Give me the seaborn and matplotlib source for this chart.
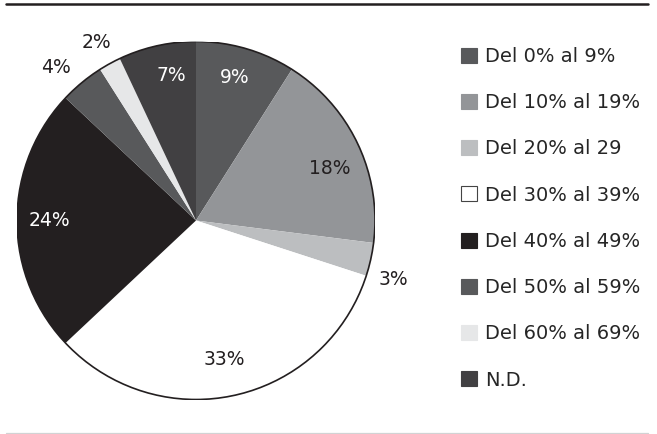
import numpy as np
import matplotlib
matplotlib.use("Agg")
import matplotlib.pyplot as plt
import matplotlib.patches as mpatches
from matplotlib.lines import Line2D
import seaborn as sns

# data
labels = ["Del 0% al 9%", "Del 10% al 19%", "Del 20% al 29", "Del 30% al 39%",
          "Del 40% al 49%", "Del 50% al 59%", "Del 60% al 69%", "N.D."]
shares = [9, 18, 3, 33, 24, 4, 2, 7]
pct_text = ["9%", "18%", "3%", "33%", "24%", "4%", "2%", "7%"]
colors = ["#58595b", "#939598", "#bcbec0", "#ffffff",
          "#231f20", "#58595b", "#e6e7e8", "#414042"]
text_colors = ["white", "#231f20", "#231f20", "#231f20",
               "white", "#231f20", "#231f20", "white"]
# label distance from centre (fraction of radius) and small angle nudge
label_r = [0.83, 0.80, 1.15, 0.79, 0.82, 1.16, 1.14, 0.82]
label_dang = [1, -4, -4, -1, 0, 3, 0.5, -3]

sns.set_theme(style="white")
plt.rcParams["font.family"] = ["DejaVu Sans"]
FS = 13.5
LFS = 14

fig = plt.figure(figsize=(6.57, 4.34), dpi=100)
ax = fig.add_axes([17 / 657, 1 - 399.5 / 434, 358 / 657, 358 / 434])

wedges, _ = ax.pie(shares, colors=sns.color_palette(colors), startangle=90,
                   counterclock=False, radius=1,
                   wedgeprops=dict(linewidth=0))
ax.add_patch(mpatches.Circle((0, 0), 1, fill=False, edgecolor="#231f20", lw=1.2))

for w, t, c, r, da in zip(wedges, pct_text, text_colors, label_r, label_dang):
    mid = np.deg2rad((w.theta1 + w.theta2) / 2 + da)
    ax.text(r * np.cos(mid), r * np.sin(mid), t, color=c, fontsize=FS,
            ha="center", va="center")

ax.set_xlim(-1, 1)
ax.set_ylim(-1, 1)
ax.set_aspect("equal")
ax.axis("off")

handles = []
for c in colors:
    edge = "#444444" if c == "#ffffff" else c
    handles.append(mpatches.Patch(facecolor=c, edgecolor=edge, lw=0.8))

fig.legend(handles, labels, loc="upper left", bbox_to_anchor=(461 / 657, 1 - 47 / 434),
           frameon=False, fontsize=LFS, handlelength=0.82, handleheight=0.82,
           handletextpad=0.4, labelspacing=1.40, borderpad=0, borderaxespad=0)

fig.add_artist(Line2D([6 / 657, 648 / 657], [1 - 4.3 / 434] * 2, color="#231f20", lw=1.8))
fig.add_artist(Line2D([6 / 657, 648 / 657], [1 - 433 / 434] * 2, color="#d1d3d4", lw=0.9))

fig.savefig("out.png", dpi=100)
